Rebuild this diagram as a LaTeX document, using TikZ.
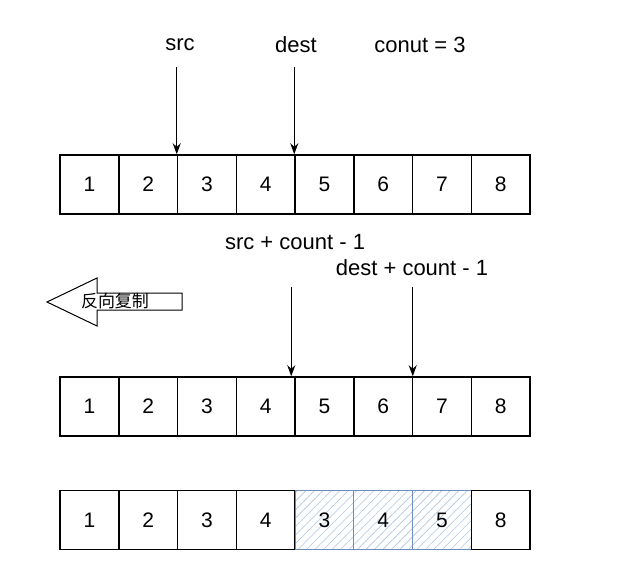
\documentclass[tikz,border=0pt]{standalone}
\usepackage{fontspec}
\setmainfont{Liberation Sans}
\newfontfamily\cjk{Noto Sans CJK SC}
\usetikzlibrary{arrows.meta,patterns.meta}
\definecolor{hlblue}{RGB}{108,142,191}
\definecolor{hatchblue}{RGB}{175,198,228}
\tikzset{
  cell/.style={draw, line width=1.5pt, minimum width=58.75pt, minimum height=59pt, inner sep=0pt, font=\fontsize{21}{25}\selectfont},
  hlcell/.style={cell, draw=hlblue, line width=1pt, pattern={Lines[angle=45,distance=6pt,line width=0.6pt]}, pattern color=hatchblue},
  lbl/.style={font=\fontsize{22}{26}\selectfont, inner sep=0pt},
  ptr/.style={-{Stealth[length=11pt,width=8pt]}, line width=1pt}
}
\begin{document}
\begin{tikzpicture}[x=1pt,y=-1pt]
\useasboundingbox[fill=white] (0,0) rectangle (622,576);

% Rows of cells
\foreach \v [count=\i] in {1,...,8}
  \node[cell] (t\i) at (60+58.75*\i-29.375, 184.5) {\v};
\foreach \v [count=\i] in {1,...,8}
  \node[cell] (m\i) at (60+58.75*\i-29.375, 406.5) {\v};
\foreach \v [count=\i] in {1,2,3,4,3,4,5,8} {
  \ifnum\i>4 \ifnum\i<8
    \node[hlcell] (b\i) at (60+58.75*\i-29.375, 520) {\v};
  \else
    \node[cell] (b\i) at (60+58.75*\i-29.375, 520) {\v};
  \fi \else
    \node[cell] (b\i) at (60+58.75*\i-29.375, 520) {\v};
  \fi
}

% Labels
\node[lbl] (src) at (180, 45) {src};
\node[lbl] (dest) at (296, 45) {dest};
\node[lbl] (cnt) at (420, 45) {conut = 3};
\node[lbl] (srcend) at (295, 242) {src + count - 1};
\node[lbl] (destend) at (412, 268) {dest + count - 1};

% Pointers
\draw[ptr] ([yshift=87pt]t3.north west) -- (t3.north west);
\draw[ptr] ([yshift=87pt]t5.north west) -- (t5.north west);
\draw[ptr] ([xshift=-3pt,yshift=89pt]m5.north west) -- ([xshift=-3pt]m5.north west);
\draw[ptr] ([xshift=1pt,yshift=89pt]m7.north west) -- ([xshift=1pt]m7.north west);

% Reverse copy arrow
\draw[line width=1pt, fill=white] (47,302) -- (97,278) -- (97,293) -- (182,293)
  -- (182,310) -- (97,310) -- (97,326) -- cycle;
\node[font=\cjk\fontsize{17}{20}\selectfont, inner sep=0pt] (rev) at (115,301) {反向复制};
\end{tikzpicture}
\end{document}
